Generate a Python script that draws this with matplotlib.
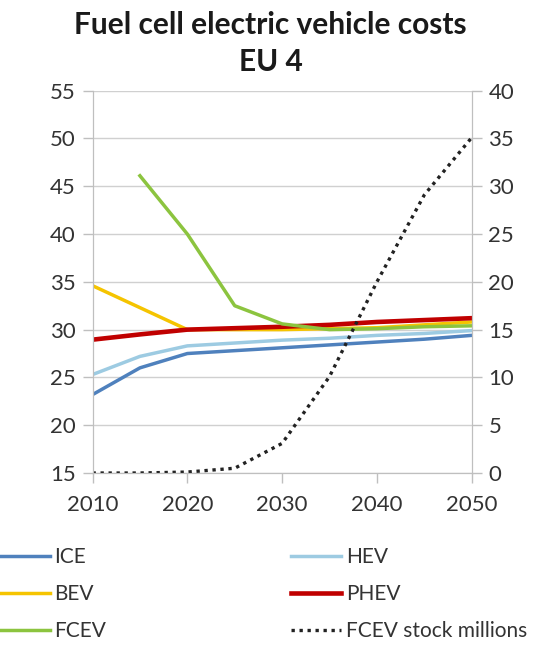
import matplotlib
matplotlib.use("Agg")
from matplotlib import pyplot as plt

plt.rcParams['font.family'] = ['Lato', 'DejaVu Sans']

years = [2010, 2015, 2020, 2025, 2030, 2035, 2040, 2045, 2050]
fcev_years = [2015, 2020, 2025, 2030, 2035, 2040, 2045, 2050]

ice = [23.2, 26.0, 27.5, 27.8, 28.1, 28.4, 28.7, 29.0, 29.4]
hev = [25.3, 27.2, 28.3, 28.6, 28.9, 29.1, 29.4, 29.6, 29.9]
bev = [34.6, 32.3, 30.0, 30.0, 30.0, 30.1, 30.2, 30.5, 30.8]
phev = [28.95, 29.5, 30.0, 30.15, 30.3, 30.5, 30.8, 31.0, 31.2]
fcev = [46.1, 40.0, 32.5, 30.6, 30.0, 30.1, 30.3, 30.4]
fcev_stock = [0.0, 0.0, 0.1, 0.5, 3.1, 10.1, 20.0, 29.1, 35.1]

left_ticks = [15, 20, 25, 30, 35, 40, 45, 50, 55]
right_ticks = [0, 5, 10, 15, 20, 25, 30, 35, 40]
x_ticks = [2010, 2020, 2030, 2040, 2050]

grey = '#bfbfbf'

fig = plt.figure(figsize=(5.41, 6.5), dpi=100)
ax = fig.add_axes([0.171, 0.2723, 0.701, 0.5882])
ax2 = ax.twinx()

l_ice, = ax.plot(years, ice, color='#4f81bd', lw=2.5, label='ICE')
l_hev, = ax.plot(years, hev, color='#9dcbe2', lw=2.5, label='HEV')
l_bev, = ax.plot(years, bev, color='#f5c400', lw=2.5, label='BEV')
l_phev, = ax.plot(years, phev, color='#c00000', lw=3.3, label='PHEV')
l_fcev, = ax.plot(fcev_years, fcev, color='#8cc43f', lw=2.5, label='FCEV')
l_stock, = ax2.plot(years, fcev_stock, color='#222222', lw=2.4,
                    linestyle=(0, (1, 1.4)), label='FCEV stock millions')

ax.set_xlim(2010, 2050)
ax.set_ylim(15, 55)
ax2.set_ylim(0, 40)
ax.set_xticks(x_ticks)
ax.set_yticks(left_ticks)
ax2.set_yticks(right_ticks)

ax.grid(axis='y', color='#d0d0d0', lw=1)
ax.set_axisbelow(True)

for a in (ax, ax2):
    a.spines['top'].set_visible(False)
    for side in ('left', 'right', 'bottom'):
        a.spines[side].set_color(grey)
    a.tick_params(colors=grey, labelcolor='#333333', labelsize=16,
                  length=7, width=1, direction='out')
ax.tick_params(axis='x', pad=9)
ax.tick_params(axis='y', pad=5)
ax2.tick_params(axis='y', pad=5)

fig.text(0.5, 0.962, 'Fuel cell electric vehicle costs', ha='center', va='center',
         fontsize=21.5, fontweight='bold', color='#1a1a1a')
fig.text(0.5, 0.905, 'EU 4', ha='center', va='center',
         fontsize=21.5, fontweight='bold', color='#1a1a1a')

handles = [l_ice, l_bev, l_fcev, l_hev, l_phev, l_stock]
fig.legend(handles, [h.get_label() for h in handles], ncol=2,
           loc='upper left', bbox_to_anchor=(0.0, 0.158), frameon=False,
           borderpad=0, borderaxespad=0,
           fontsize=15, handlelength=2.4, handletextpad=0.2,
           columnspacing=8.9, labelspacing=0.82, labelcolor='#333333')

fig.savefig('out.png', dpi=100)
